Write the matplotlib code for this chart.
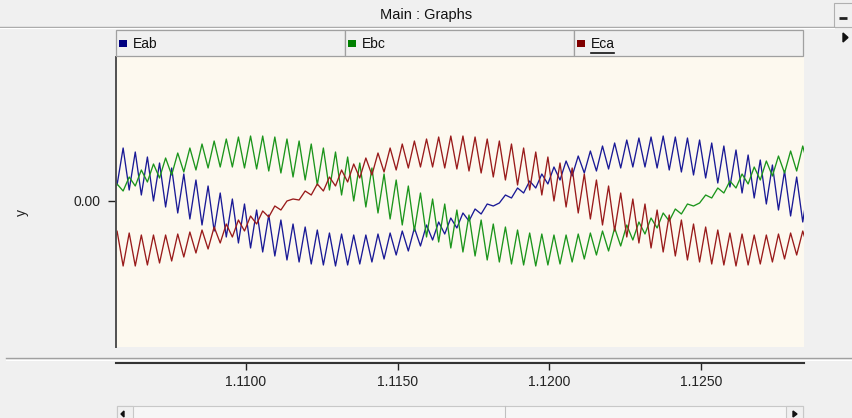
import numpy as np
import matplotlib
matplotlib.use("Agg")
import matplotlib.pyplot as plt
from matplotlib.patches import Rectangle

plt.rcParams["font.family"] = ["Liberation Sans", "DejaVu Sans"]

# Sampled traces: one value every DT seconds starting at T0 (ripple peaks/troughs)
T0 = 1.10555
DT = 0.0002

EAB = [57, 16, 53, 11, 49, 6, 44, 0, 38, -6,
       33, -12, 27, -18, 21, -24, 15, -30, 8, -36,
       2, -42, -3, -47, -9, -51, -14, -55, -19, -59,
       -23, -61, -26, -63, -29, -64, -32, -65, -33, -64,
       -34, -63, -34, -61, -33, -58, -32, -54, -30, -50,
       -27, -45, -24, -39, -21, -33, -17, -27, -12, -20,
       -8, -13, -3, -5, -2, 6, 3, 13, 8, 20,
       13, 27, 17, 34, 21, 40, 25, 45, 28, 50,
       30, 55, 32, 58, 33, 61, 34, 63, 34, 64,
       33, 65, 31, 64, 29, 63, 26, 61, 23, 58,
       18, 55, 14, 51, 8, 46, 3, 41, -3, 36,
       -9, 30, -15, 24, -21, 18]

EBC = [6, 17, 10, 24, 15, 31, 19, 37, 23, 43,
       26, 48, 29, 53, 31, 57, 33, 60, 34, 62,
       34, 64, 33, 65, 32, 65, 30, 64, 28, 62,
       24, 60, 21, 57, 16, 53, 11, 49, 6, 44,
       0, 38, -6, 33, -12, 27, -18, 21, -24, 15,
       -30, 8, -36, 2, -41, -3, -47, -9, -51, -14,
       -55, -19, -59, -23, -61, -26, -63, -29, -64, -32,
       -65, -33, -64, -34, -63, -34, -61, -33, -58, -32,
       -54, -30, -50, -27, -45, -24, -39, -21, -33, -17,
       -27, -12, -20, -8, -13, -3, -5, -2, 6, 3,
       13, 8, 20, 13, 27, 17, 34, 21, 40, 25,
       45, 28, 50, 30, 55, 32]

ECA = [-64, -30, -65, -32, -65, -34, -64, -34, -62, -34,
       -60, -33, -56, -31, -52, -29, -48, -26, -42, -23,
       -36, -19, -30, -15, -23, -10, -16, -5, -9, 0,
       2, 1, 10, 6, 17, 10, 24, 15, 31, 19,
       37, 23, 43, 26, 48, 29, 53, 31, 57, 33,
       60, 34, 62, 34, 64, 33, 65, 32, 65, 30,
       64, 28, 62, 24, 60, 21, 57, 16, 53, 11,
       49, 6, 44, 0, 38, -6, 33, -12, 27, -18,
       21, -24, 15, -30, 8, -36, 2, -42, -3, -47,
       -9, -51, -14, -55, -19, -59, -23, -61, -26, -63,
       -29, -64, -32, -65, -33, -64, -34, -63, -34, -61,
       -33, -58, -32, -54, -30, -50]

SERIES_NAMES = ["Eab", "Ebc", "Eca"]
LINE_COLORS = ["#1a1a96", "#1c951c", "#991b1b"]
SWATCH_COLORS = ["#000080", "#008000", "#800000"]
X_TICKS = [1.1100, 1.1150, 1.1200, 1.1250]
Y_TICKS = [0.0]
X_RANGE = (1.105715, 1.128375)
Y_RANGE = (-146, 144)

W, H = 852, 418
BG = "#f0f0f0"


def fig_rect(x0, y0, x1, y1):
    """Pixel box (top-left origin) -> figure fraction rect."""
    return [x0 / W, 1 - y1 / H, (x1 - x0) / W, (y1 - y0) / H]


fig = plt.figure(figsize=(W / 100, H / 100), dpi=100, facecolor=BG)

# main plot area
ax = fig.add_axes(fig_rect(116, 57, 803.5, 347))
ax.set_facecolor("#fdf9ef")
for vals, color in zip([EAB, EBC, ECA], LINE_COLORS):
    t = T0 + DT * np.arange(len(vals))
    ax.plot(t, vals, color=color, lw=0.95)
ax.set_xlim(*X_RANGE)
ax.set_ylim(*Y_RANGE)
ax.set_xticks([])
ax.set_yticks(Y_TICKS)
ax.set_yticklabels(["0.00"])
ax.tick_params(axis="y", length=6, width=1, pad=5, labelsize=10, colors="#222222")
for side in ["top", "right", "bottom"]:
    ax.spines[side].set_visible(False)
ax.spines["left"].set_color("#505050")
ax.spines["left"].set_linewidth(1.4)

# separate time axis below the plot
axx = fig.add_axes(fig_rect(116, 362, 803.5, 363))
axx.set_facecolor("none")
axx.set_xlim(*X_RANGE)
axx.set_xticks(X_TICKS)
axx.set_xticklabels([f"{v:.4f}" for v in X_TICKS])
axx.set_yticks([])
axx.tick_params(axis="x", length=5, width=1, pad=4, labelsize=10, colors="#222222")
for side in ["top", "right", "left"]:
    axx.spines[side].set_visible(False)
axx.spines["bottom"].set_color("#333333")
axx.spines["bottom"].set_linewidth(1.5)

# window chrome in pixel coordinates
ov = fig.add_axes([0, 0, 1, 1], zorder=3)
ov.set_xlim(0, W)
ov.set_ylim(H, 0)
ov.axis("off")
ov.patch.set_alpha(0)

ov.text(426, 15, "Main : Graphs", ha="center", va="center", fontsize=10.5, color="#111111")
ov.plot([0, 834], [27, 27], color="#a8a8a8", lw=1)
ov.plot([0, 834], [28, 28], color="white", lw=0.8)
ov.add_patch(Rectangle((834, 3), 20, 24, fc=BG, ec="#b0b0b0", lw=0.8))
ov.plot([839, 847], [18, 18], color="#222222", lw=2, solid_capstyle="butt")
ov.fill([843, 848, 843], [33, 37.5, 42], color="#111111")

cell_w = (803 - 116) / 3
for i, (name, sw) in enumerate(zip(SERIES_NAMES, SWATCH_COLORS)):
    x0 = 116 + i * cell_w
    ov.add_patch(Rectangle((x0, 30), cell_w, 26, fc=BG, ec="#a0a0a0", lw=0.9))
    ov.add_patch(Rectangle((x0 + 3, 40), 8, 7, fc=sw, ec="none"))
    ov.text(x0 + 17, 44, name, ha="left", va="center", fontsize=10, color="#111111")
# focus underline on the last legend entry
ov.plot([116 + 2 * cell_w + 17, 116 + 2 * cell_w + 40], [52.5, 52.5], color="#111111", lw=1.2)

ov.text(22, 213, "y", rotation=90, ha="center", va="center", fontsize=10, color="#222222")

ov.plot([6, W], [358, 358], color="#a0a0a0", lw=1)
ov.plot([6, W], [359.5, 359.5], color="white", lw=0.8)

# bottom scrollbar (cut off by the window edge)
ov.add_patch(Rectangle((117, 406), 686, 16, fc="#f6f6f6", ec="#c8c8c8", lw=0.8))
ov.add_patch(Rectangle((117, 406), 16, 16, fc=BG, ec="#c8c8c8", lw=0.8))
ov.add_patch(Rectangle((786, 406), 17, 16, fc=BG, ec="#c8c8c8", lw=0.8))
ov.plot([505, 505], [406, 418], color="#c0c0c0", lw=0.8)
ov.fill([124, 121, 124], [411, 414, 417], color="#111111")
ov.fill([793, 797, 793], [411, 414, 417], color="#111111")

fig.savefig("out.png", dpi=100, facecolor=BG)
